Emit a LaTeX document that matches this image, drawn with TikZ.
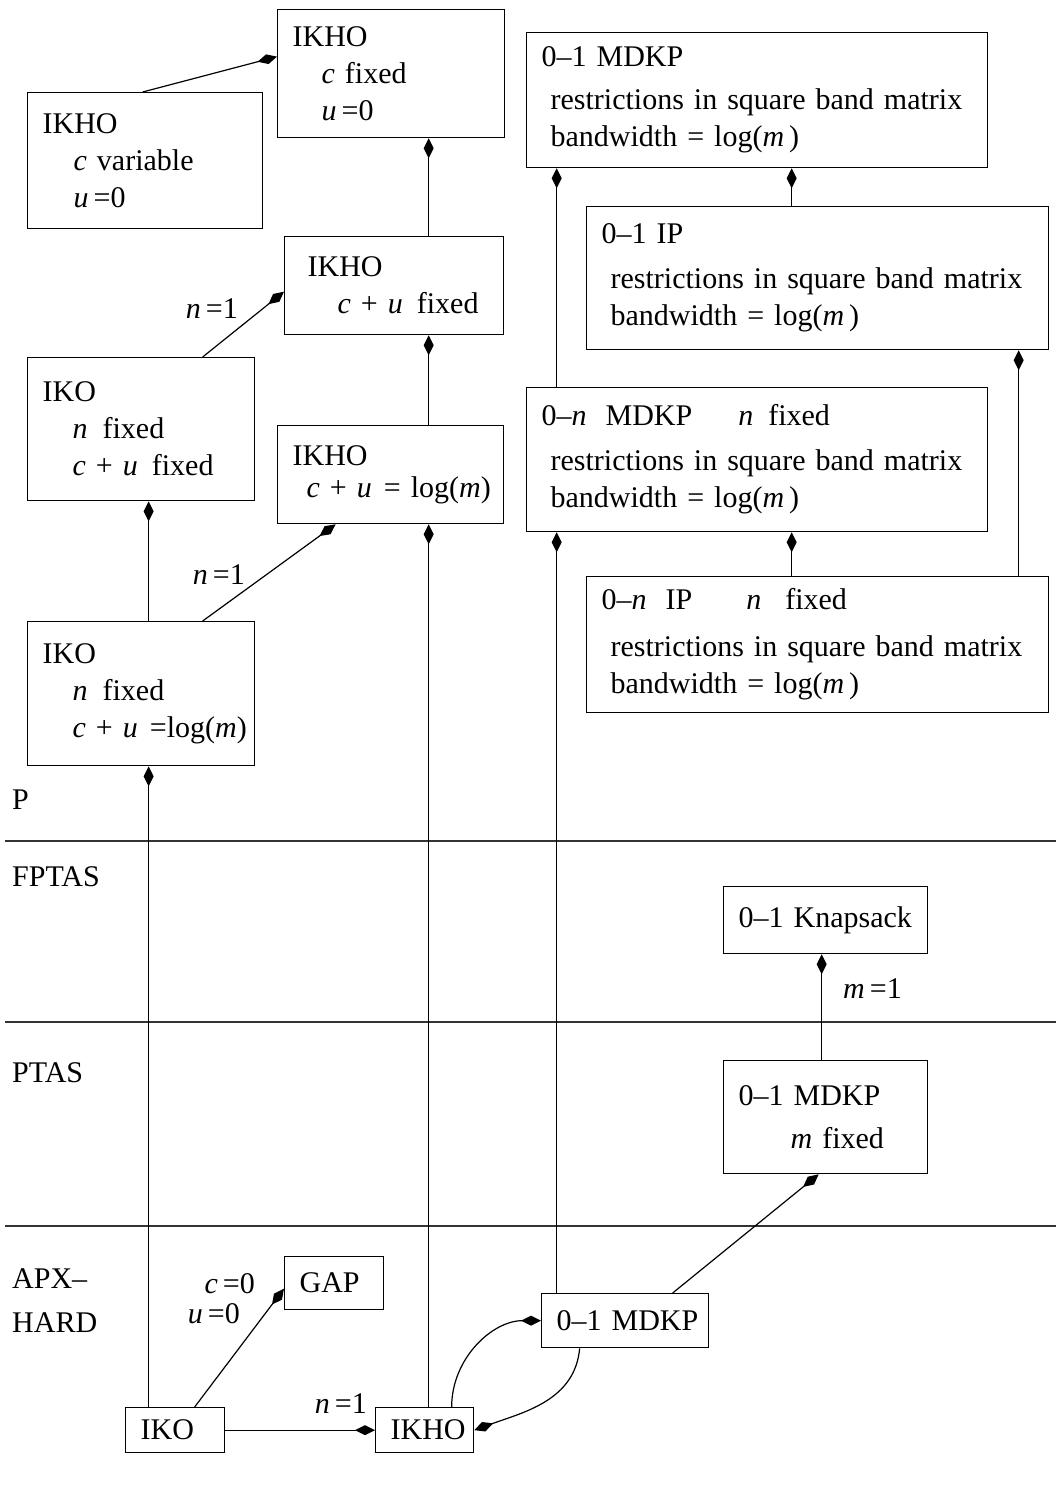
\documentclass[tikz,border=0pt]{standalone}
\usepackage{fontspec}
\setmainfont{Liberation Serif}
\usetikzlibrary{arrows.meta}

\begin{document}
\begin{tikzpicture}[
    x=1pt, y=-1pt,
    prob/.style={rectangle, draw=black, line width=1.3pt, anchor=north west,
                 inner xsep=15pt, inner ysep=0pt, align=left,
                 font=\fontsize{30}{37}\selectfont},
    lbl/.style={font=\fontsize{30}{37}\selectfont, inner sep=0pt},
    arr/.style={-{Diamond[length=20pt,width=10pt]}, line width=1.2pt},
    sep/.style={line width=1.5pt, black!80},
]
\useasboundingbox (0,0) rectangle (1056,1489);

% complexity classes
\draw[sep] (5,841) -- (1056,841);
\draw[sep] (5,1022) -- (1056,1022);
\draw[sep] (5,1226) -- (1056,1226);
\node[lbl, anchor=base west] (clP) at (12,809) {P};
\node[lbl, anchor=base west] (clF) at (12,886) {FPTAS};
\node[lbl, anchor=base west] (clT) at (12,1082) {PTAS};
\node[lbl, anchor=base west] (clA) at (12,1288) {APX--};
\node[lbl, anchor=base west] (clH) at (12,1332) {HARD};

% IKHO / IKO column
\node[prob, text width=197pt, minimum height=128pt] (ikhoc) at (277,9)
    {IKHO\\ \hspace*{29pt}\textit{c} fixed\\ \hspace*{29pt}\textit{u}\,=0};
\node[prob, text width=205pt, minimum height=136pt] (ikhov) at (27,92)
    {IKHO\\ \hspace*{31pt}\textit{c} variable\\ \hspace*{31pt}\textit{u}\,=0};
\node[prob, text width=189pt, minimum height=98pt] (ikhocu) at (284,236)
    {\hspace*{8pt}IKHO\\ \mbox{\hspace*{38pt}\textit{c} + \textit{u}\hspace{14pt}fixed}};
\node[prob, text width=197pt, minimum height=143pt] (ikocu) at (27,357)
    {IKO\\ \hspace*{30pt}\textit{n}\hspace{15pt}fixed\\
     \mbox{\hspace*{30pt}\textit{c} + \textit{u}\hspace{14pt}fixed}};
\node[prob, text width=196pt, minimum height=98pt] (ikholog) at (277,425)
    {IKHO\\[-5pt] \mbox{\hspace*{14pt}\textit{c} + \textit{u}\hspace{12pt}= log(\textit{m})}};
\node[prob, text width=197pt, minimum height=144pt] (ikolog) at (27,621)
    {IKO\\ \hspace*{30pt}\textit{n}\hspace{15pt}fixed\\
     \mbox{\hspace*{30pt}\textit{c} + \textit{u}\hspace{12pt}=log(\textit{m})}};

% band matrix column
\node[prob, text width=431pt, minimum height=135pt] (mdkpb) at (526,32)
    {0--1 MDKP\\[6pt] \hspace*{9pt}restrictions in square band matrix\\
     \hspace*{9pt}bandwidth = log(\textit{m}\,)};
\node[prob, text width=432pt, minimum height=143pt] (ipb) at (586,206)
    {0--1 IP\\[8pt] \hspace*{9pt}restrictions in square band matrix\\
     \hspace*{9pt}bandwidth = log(\textit{m}\,)};
\node[prob, text width=431pt, minimum height=144pt] (mdkpn) at (526,387)
    {0--\textit{n}\hspace{19pt}MDKP\hspace{46pt}\textit{n}\hspace{15pt}fixed\\[8pt]
     \hspace*{9pt}restrictions in square band matrix\\
     \hspace*{9pt}bandwidth = log(\textit{m}\,)};
\node[prob, text width=432pt, minimum height=136pt] (ipn) at (586,576)
    {0--\textit{n}\hspace{19pt}IP\hspace{54pt}\textit{n}\hspace{24pt}fixed\\[10pt]
     \hspace*{9pt}restrictions in square band matrix\\
     \hspace*{9pt}bandwidth = log(\textit{m}\,)};

% FPTAS and PTAS
\node[prob, text width=174pt, minimum height=67pt] (knap) at (723,886) {0--1 Knapsack};
\node[prob, text width=174pt, minimum height=113pt] (mdkpm) at (723,1060)
    {0--1 MDKP\\[6pt] \hspace*{52pt}\textit{m} fixed};

% APX-hard
\node[prob, text width=69pt, minimum height=45pt] (iko) at (125,1407) {IKO};
\node[prob, text width=69pt, minimum height=53pt] (gap) at (284,1256) {GAP};
\node[prob, text width=68pt, minimum height=45pt] (ikho) at (375,1407) {IKHO};
\node[prob, text width=137pt, minimum height=54pt] (mdkp) at (541,1293) {\mbox{0--1 MDKP}};

% reductions
\draw[arr] ([xshift=-2.5pt]ikhov.north) -- ([yshift=17pt]ikhoc.west);
\draw[arr] ([xshift=34.5pt]ikhocu.north) -- ([xshift=37.5pt]ikhoc.south);
\draw[arr] ([xshift=61.5pt]ikocu.north) -- ([yshift=-6pt]ikhocu.west);
\node[lbl, anchor=base east] (n1a) at (238,318) {\textit{n}\hspace{5pt}=1};
\draw[arr] ([xshift=38pt]ikholog.north) -- ([xshift=34.5pt]ikhocu.south);
\draw[arr] ([xshift=7.5pt]ikolog.north) -- ([xshift=7.5pt]ikocu.south);
\draw[arr] ([xshift=61.5pt]ikolog.north) -- ([xshift=-55pt]ikholog.south);
\node[lbl, anchor=base east] (n1b) at (245,584) {\textit{n}\hspace{5pt}=1};

\draw[arr] ([xshift=-26.5pt]iko.north) -- ([xshift=7.5pt]ikolog.south);
\draw[arr] ([xshift=4pt]ikho.north) -- ([xshift=38pt]ikholog.south);
\draw[arr] ([xshift=-68.5pt]mdkp.north) -- ([xshift=-200.5pt]mdkpn.south);
\draw[arr] ([xshift=-200.5pt]mdkpn.north) -- ([xshift=-200.5pt]mdkpb.south);
\draw[arr] ([xshift=-26pt]ipb.north) -- ([xshift=34.5pt]mdkpb.south);
\draw[arr] ([xshift=-26pt]ipn.north) -- ([xshift=34.5pt]mdkpn.south);
\draw[arr] ([xshift=201pt]ipn.north) -- ([xshift=201pt]ipb.south);

\draw[arr] ([xshift=-4pt]mdkpm.north) -- ([xshift=-4pt]knap.south);
\node[lbl, anchor=base west] (m1) at (843,998) {\textit{m}\hspace{5pt}=1};
\draw[arr] ([xshift=47.5pt]mdkp.north) -- ([xshift=-7pt]mdkpm.south);

\draw[arr] ([xshift=19.5pt]iko.north) -- ([yshift=-5.5pt]gap.west);
\node[lbl, anchor=base east] (c0) at (255,1293) {\textit{c}\hspace{5pt}=0};
\node[lbl, anchor=base east] (u0) at (240,1323) {\textit{u}\hspace{5pt}=0};
\draw[arr] (iko.east) -- (ikho.west);
\node[lbl, anchor=base east] (n1c) at (367,1413) {\textit{n}\hspace{5pt}=1};
\draw[arr] ([xshift=27pt]ikho.north) to[out=90,in=180] (mdkp.west);
\draw[arr] ([xshift=-45.5pt]mdkp.south) to[out=-95,in=20] (ikho.east);

\end{tikzpicture}
\end{document}
